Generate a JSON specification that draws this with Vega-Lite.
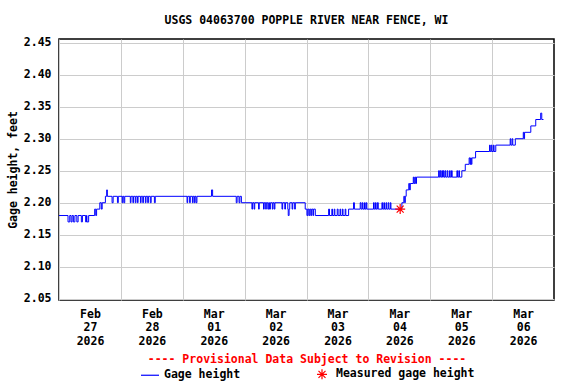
{
  "$schema": "https://vega.github.io/schema/vega-lite/v6.json",
  "autosize": {"type": "none"},
  "width": 495,
  "height": 261,
  "padding": {"left": 59, "top": 39, "right": 22, "bottom": 84},
  "background": "white",
  "title": {
    "text": "USGS 04063700 POPPLE RIVER NEAR FENCE, WI",
    "font": "DejaVu Sans Mono",
    "fontSize": 11.5,
    "fontWeight": "bold",
    "color": "black",
    "anchor": "middle",
    "frame": "group",
    "baseline": "alphabetic",
    "offset": 1.5
  },
  "config": {
    "view": {"stroke": "black", "strokeWidth": 1.5},
    "axis": {
      "labelFont": "DejaVu Sans Mono",
      "labelFontSize": 11.5,
      "labelFontWeight": "bold",
      "labelColor": "black",
      "titleFont": "DejaVu Sans Mono",
      "titleFontSize": 11.5,
      "titleFontWeight": "bold",
      "titleColor": "black",
      "gridColor": "#cccccc",
      "gridWidth": 1,
      "gridOpacity": 1,
      "domain": false,
      "tickSize": 0
    }
  },
  "layer": [
    {
      "data": {
        "values": [
          {"time": "2026-02-27T00:00", "height": 2.18},
          {"time": "2026-02-27T03:30", "height": 2.17},
          {"time": "2026-02-27T04:10", "height": 2.18},
          {"time": "2026-02-27T04:40", "height": 2.17},
          {"time": "2026-02-27T05:05", "height": 2.18},
          {"time": "2026-02-27T05:35", "height": 2.17},
          {"time": "2026-02-27T06:10", "height": 2.18},
          {"time": "2026-02-27T06:55", "height": 2.17},
          {"time": "2026-02-27T07:25", "height": 2.18},
          {"time": "2026-02-27T08:40", "height": 2.17},
          {"time": "2026-02-27T09:05", "height": 2.18},
          {"time": "2026-02-27T10:20", "height": 2.17},
          {"time": "2026-02-27T10:40", "height": 2.18},
          {"time": "2026-02-27T10:50", "height": 2.17},
          {"time": "2026-02-27T11:30", "height": 2.18},
          {"time": "2026-02-27T13:50", "height": 2.19},
          {"time": "2026-02-27T14:15", "height": 2.18},
          {"time": "2026-02-27T14:35", "height": 2.19},
          {"time": "2026-02-27T15:50", "height": 2.20},
          {"time": "2026-02-27T16:25", "height": 2.19},
          {"time": "2026-02-27T16:45", "height": 2.20},
          {"time": "2026-02-27T18:00", "height": 2.21},
          {"time": "2026-02-27T18:30", "height": 2.22},
          {"time": "2026-02-27T18:45", "height": 2.21},
          {"time": "2026-02-27T20:35", "height": 2.20},
          {"time": "2026-02-27T21:00", "height": 2.21},
          {"time": "2026-02-27T22:40", "height": 2.20},
          {"time": "2026-02-27T23:00", "height": 2.21},
          {"time": "2026-02-28T00:30", "height": 2.20},
          {"time": "2026-02-28T00:45", "height": 2.21},
          {"time": "2026-02-28T01:10", "height": 2.20},
          {"time": "2026-02-28T01:30", "height": 2.21},
          {"time": "2026-02-28T03:40", "height": 2.20},
          {"time": "2026-02-28T03:55", "height": 2.21},
          {"time": "2026-02-28T04:40", "height": 2.20},
          {"time": "2026-02-28T04:55", "height": 2.21},
          {"time": "2026-02-28T05:35", "height": 2.20},
          {"time": "2026-02-28T05:50", "height": 2.21},
          {"time": "2026-02-28T06:25", "height": 2.20},
          {"time": "2026-02-28T06:40", "height": 2.21},
          {"time": "2026-02-28T07:35", "height": 2.20},
          {"time": "2026-02-28T07:50", "height": 2.21},
          {"time": "2026-02-28T08:30", "height": 2.20},
          {"time": "2026-02-28T08:45", "height": 2.21},
          {"time": "2026-02-28T09:30", "height": 2.20},
          {"time": "2026-02-28T09:45", "height": 2.21},
          {"time": "2026-02-28T10:25", "height": 2.20},
          {"time": "2026-02-28T10:40", "height": 2.21},
          {"time": "2026-02-28T11:25", "height": 2.20},
          {"time": "2026-02-28T11:45", "height": 2.21},
          {"time": "2026-02-28T13:00", "height": 2.20},
          {"time": "2026-02-28T13:20", "height": 2.21},
          {"time": "2026-03-01T01:40", "height": 2.20},
          {"time": "2026-03-01T01:55", "height": 2.21},
          {"time": "2026-03-01T02:40", "height": 2.20},
          {"time": "2026-03-01T02:55", "height": 2.21},
          {"time": "2026-03-01T03:45", "height": 2.20},
          {"time": "2026-03-01T04:00", "height": 2.21},
          {"time": "2026-03-01T04:30", "height": 2.20},
          {"time": "2026-03-01T04:45", "height": 2.21},
          {"time": "2026-03-01T05:10", "height": 2.20},
          {"time": "2026-03-01T05:30", "height": 2.21},
          {"time": "2026-03-01T11:10", "height": 2.22},
          {"time": "2026-03-01T11:35", "height": 2.21},
          {"time": "2026-03-01T20:45", "height": 2.20},
          {"time": "2026-03-01T21:05", "height": 2.21},
          {"time": "2026-03-01T21:50", "height": 2.20},
          {"time": "2026-03-01T22:10", "height": 2.21},
          {"time": "2026-03-01T22:45", "height": 2.20},
          {"time": "2026-03-02T02:50", "height": 2.19},
          {"time": "2026-03-02T03:05", "height": 2.20},
          {"time": "2026-03-02T03:40", "height": 2.19},
          {"time": "2026-03-02T03:55", "height": 2.20},
          {"time": "2026-03-02T05:25", "height": 2.19},
          {"time": "2026-03-02T05:40", "height": 2.20},
          {"time": "2026-03-02T07:20", "height": 2.19},
          {"time": "2026-03-02T07:35", "height": 2.20},
          {"time": "2026-03-02T08:10", "height": 2.19},
          {"time": "2026-03-02T08:25", "height": 2.20},
          {"time": "2026-03-02T09:00", "height": 2.19},
          {"time": "2026-03-02T09:20", "height": 2.20},
          {"time": "2026-03-02T09:40", "height": 2.19},
          {"time": "2026-03-02T10:00", "height": 2.20},
          {"time": "2026-03-02T10:45", "height": 2.19},
          {"time": "2026-03-02T11:00", "height": 2.20},
          {"time": "2026-03-02T11:30", "height": 2.19},
          {"time": "2026-03-02T11:45", "height": 2.20},
          {"time": "2026-03-02T14:30", "height": 2.19},
          {"time": "2026-03-02T14:45", "height": 2.20},
          {"time": "2026-03-02T15:35", "height": 2.19},
          {"time": "2026-03-02T15:50", "height": 2.20},
          {"time": "2026-03-02T16:45", "height": 2.19},
          {"time": "2026-03-02T16:55", "height": 2.18},
          {"time": "2026-03-02T17:15", "height": 2.19},
          {"time": "2026-03-02T17:30", "height": 2.20},
          {"time": "2026-03-02T18:25", "height": 2.19},
          {"time": "2026-03-02T18:40", "height": 2.20},
          {"time": "2026-03-02T19:25", "height": 2.19},
          {"time": "2026-03-02T19:40", "height": 2.20},
          {"time": "2026-03-02T23:30", "height": 2.19},
          {"time": "2026-03-03T00:10", "height": 2.18},
          {"time": "2026-03-03T00:30", "height": 2.19},
          {"time": "2026-03-03T00:55", "height": 2.18},
          {"time": "2026-03-03T01:15", "height": 2.19},
          {"time": "2026-03-03T01:40", "height": 2.18},
          {"time": "2026-03-03T02:00", "height": 2.19},
          {"time": "2026-03-03T02:30", "height": 2.18},
          {"time": "2026-03-03T02:45", "height": 2.19},
          {"time": "2026-03-03T03:25", "height": 2.18},
          {"time": "2026-03-03T08:35", "height": 2.19},
          {"time": "2026-03-03T08:55", "height": 2.18},
          {"time": "2026-03-03T09:50", "height": 2.19},
          {"time": "2026-03-03T10:05", "height": 2.18},
          {"time": "2026-03-03T10:45", "height": 2.19},
          {"time": "2026-03-03T11:00", "height": 2.18},
          {"time": "2026-03-03T11:55", "height": 2.19},
          {"time": "2026-03-03T12:15", "height": 2.18},
          {"time": "2026-03-03T13:00", "height": 2.19},
          {"time": "2026-03-03T13:15", "height": 2.18},
          {"time": "2026-03-03T13:55", "height": 2.19},
          {"time": "2026-03-03T14:10", "height": 2.18},
          {"time": "2026-03-03T15:00", "height": 2.19},
          {"time": "2026-03-03T15:15", "height": 2.18},
          {"time": "2026-03-03T16:20", "height": 2.19},
          {"time": "2026-03-03T18:15", "height": 2.20},
          {"time": "2026-03-03T18:35", "height": 2.19},
          {"time": "2026-03-03T20:50", "height": 2.20},
          {"time": "2026-03-03T21:10", "height": 2.19},
          {"time": "2026-03-03T21:40", "height": 2.20},
          {"time": "2026-03-03T21:55", "height": 2.19},
          {"time": "2026-03-03T22:30", "height": 2.20},
          {"time": "2026-03-03T22:45", "height": 2.19},
          {"time": "2026-03-03T23:10", "height": 2.20},
          {"time": "2026-03-03T23:25", "height": 2.19},
          {"time": "2026-03-04T02:00", "height": 2.20},
          {"time": "2026-03-04T02:15", "height": 2.19},
          {"time": "2026-03-04T02:45", "height": 2.20},
          {"time": "2026-03-04T03:00", "height": 2.19},
          {"time": "2026-03-04T03:30", "height": 2.20},
          {"time": "2026-03-04T03:50", "height": 2.19},
          {"time": "2026-03-04T05:15", "height": 2.20},
          {"time": "2026-03-04T05:30", "height": 2.19},
          {"time": "2026-03-04T06:00", "height": 2.20},
          {"time": "2026-03-04T06:15", "height": 2.19},
          {"time": "2026-03-04T06:50", "height": 2.20},
          {"time": "2026-03-04T07:05", "height": 2.19},
          {"time": "2026-03-04T07:40", "height": 2.20},
          {"time": "2026-03-04T07:55", "height": 2.19},
          {"time": "2026-03-04T08:30", "height": 2.20},
          {"time": "2026-03-04T08:45", "height": 2.19},
          {"time": "2026-03-04T13:00", "height": 2.20},
          {"time": "2026-03-04T13:45", "height": 2.21},
          {"time": "2026-03-04T14:05", "height": 2.20},
          {"time": "2026-03-04T14:20", "height": 2.21},
          {"time": "2026-03-04T14:40", "height": 2.22},
          {"time": "2026-03-04T15:40", "height": 2.23},
          {"time": "2026-03-04T16:00", "height": 2.22},
          {"time": "2026-03-04T16:15", "height": 2.23},
          {"time": "2026-03-04T17:25", "height": 2.24},
          {"time": "2026-03-04T17:40", "height": 2.23},
          {"time": "2026-03-04T18:00", "height": 2.24},
          {"time": "2026-03-04T18:20", "height": 2.23},
          {"time": "2026-03-04T18:40", "height": 2.24},
          {"time": "2026-03-05T03:15", "height": 2.25},
          {"time": "2026-03-05T03:30", "height": 2.24},
          {"time": "2026-03-05T03:50", "height": 2.25},
          {"time": "2026-03-05T04:05", "height": 2.24},
          {"time": "2026-03-05T04:30", "height": 2.25},
          {"time": "2026-03-05T04:45", "height": 2.24},
          {"time": "2026-03-05T05:05", "height": 2.25},
          {"time": "2026-03-05T05:20", "height": 2.24},
          {"time": "2026-03-05T05:45", "height": 2.25},
          {"time": "2026-03-05T06:00", "height": 2.24},
          {"time": "2026-03-05T06:35", "height": 2.25},
          {"time": "2026-03-05T06:50", "height": 2.24},
          {"time": "2026-03-05T07:30", "height": 2.25},
          {"time": "2026-03-05T07:45", "height": 2.24},
          {"time": "2026-03-05T08:15", "height": 2.25},
          {"time": "2026-03-05T08:30", "height": 2.24},
          {"time": "2026-03-05T10:20", "height": 2.25},
          {"time": "2026-03-05T10:35", "height": 2.24},
          {"time": "2026-03-05T11:05", "height": 2.25},
          {"time": "2026-03-05T11:20", "height": 2.24},
          {"time": "2026-03-05T12:15", "height": 2.25},
          {"time": "2026-03-05T13:35", "height": 2.26},
          {"time": "2026-03-05T15:05", "height": 2.27},
          {"time": "2026-03-05T15:25", "height": 2.26},
          {"time": "2026-03-05T15:40", "height": 2.27},
          {"time": "2026-03-05T15:55", "height": 2.26},
          {"time": "2026-03-05T16:10", "height": 2.27},
          {"time": "2026-03-05T17:35", "height": 2.28},
          {"time": "2026-03-05T23:00", "height": 2.29},
          {"time": "2026-03-05T23:15", "height": 2.28},
          {"time": "2026-03-05T23:40", "height": 2.29},
          {"time": "2026-03-05T23:55", "height": 2.28},
          {"time": "2026-03-06T00:30", "height": 2.29},
          {"time": "2026-03-06T00:45", "height": 2.28},
          {"time": "2026-03-06T01:25", "height": 2.29},
          {"time": "2026-03-06T07:00", "height": 2.30},
          {"time": "2026-03-06T07:15", "height": 2.29},
          {"time": "2026-03-06T07:45", "height": 2.30},
          {"time": "2026-03-06T08:00", "height": 2.29},
          {"time": "2026-03-06T09:00", "height": 2.30},
          {"time": "2026-03-06T12:05", "height": 2.31},
          {"time": "2026-03-06T12:20", "height": 2.30},
          {"time": "2026-03-06T12:35", "height": 2.31},
          {"time": "2026-03-06T15:00", "height": 2.32},
          {"time": "2026-03-06T16:55", "height": 2.33},
          {"time": "2026-03-06T18:50", "height": 2.34},
          {"time": "2026-03-06T19:15", "height": 2.33},
          {"time": "2026-03-06T19:55", "height": 2.33}
        ]
      },
      "mark": {"type": "line", "interpolate": "step-after", "strokeWidth": 1},
      "encoding": {
        "x": {
          "field": "time",
          "type": "temporal",
          "scale": {"domain": [{"year": 2026, "month": 2, "date": 27}, {"year": 2026, "month": 3, "date": 7}]},
          "axis": {
            "values": [
              {"year": 2026, "month": 2, "date": 27},
              {"year": 2026, "month": 2, "date": 28},
              {"year": 2026, "month": 3, "date": 1},
              {"year": 2026, "month": 3, "date": 2},
              {"year": 2026, "month": 3, "date": 3},
              {"year": 2026, "month": 3, "date": 4},
              {"year": 2026, "month": 3, "date": 5},
              {"year": 2026, "month": 3, "date": 6}
            ],
            "tickCount": 20,
            "labelExpr": "[timeFormat(datum.value, '%b'), timeFormat(datum.value, '%d'), timeFormat(datum.value, '%Y')]",
            "labelOffset": 31,
            "labelPadding": 8,
            "labelBaseline": "top",
            "labelLineHeight": 13.5,
            "labelOverlap": false,
            "labelFlush": false,
            "labelBound": false,
            "grid": true,
            "title": "---- Provisional Data Subject to Revision ----",
            "titleColor": "#ff0000",
            "titlePadding": 7
          }
        },
        "y": {
          "field": "height",
          "type": "quantitative",
          "scale": {"domain": [2.048, 2.4558], "nice": false, "zero": false},
          "axis": {
            "values": [2.05, 2.1, 2.15, 2.2, 2.25, 2.3, 2.35, 2.4, 2.45],
            "tickCount": 20,
            "format": ".2f",
            "labelPadding": 8,
            "labelOverlap": false,
            "labelFlush": false,
            "labelBound": false,
            "grid": true,
            "title": "Gage height, feet",
            "titlePadding": 5
          }
        },
        "color": {
          "datum": "Gage height",
          "type": "nominal",
          "scale": {"domain": ["Gage height", "Measured gage height"], "range": ["#0000ff", "#ff0000"]},
          "legend": {
            "orient": "none",
            "legendX": 85,
            "legendY": 329,
            "direction": "horizontal",
            "title": null,
            "padding": 0,
            "labelFont": "DejaVu Sans Mono",
            "labelFontSize": 11.5,
            "labelFontWeight": "bold",
            "labelColor": "black",
            "symbolSize": 324,
            "symbolStrokeWidth": 1.2,
            "labelOffset": 8,
            "columnPadding": 73,
            "encode": {
              "symbols": {
                "update": {
                  "shape": {"signal": "datum.value === 'Gage height' ? 'stroke' : 'M-1,0L1,0M0,-1L0,1M-0.7,-0.7L0.7,0.7M-0.7,0.7L0.7,-0.7'"},
                  "size": {"signal": "datum.value === 'Gage height' ? 324 : 100"}
                }
              }
            }
          }
        }
      }
    },
    {
      "data": {"values": [{"time": "2026-03-04T12:20", "height": 2.19}]},
      "mark": {"type": "point", "shape": "M-1,0L1,0M0,-1L0,1M-0.7,-0.7L0.7,0.7M-0.7,0.7L0.7,-0.7", "size": 100, "filled": false, "strokeWidth": 1.2, "opacity": 1},
      "encoding": {
        "x": {"field": "time", "type": "temporal"},
        "y": {"field": "height", "type": "quantitative"},
        "color": {"datum": "Measured gage height", "type": "nominal"}
      }
    }
  ]
}
